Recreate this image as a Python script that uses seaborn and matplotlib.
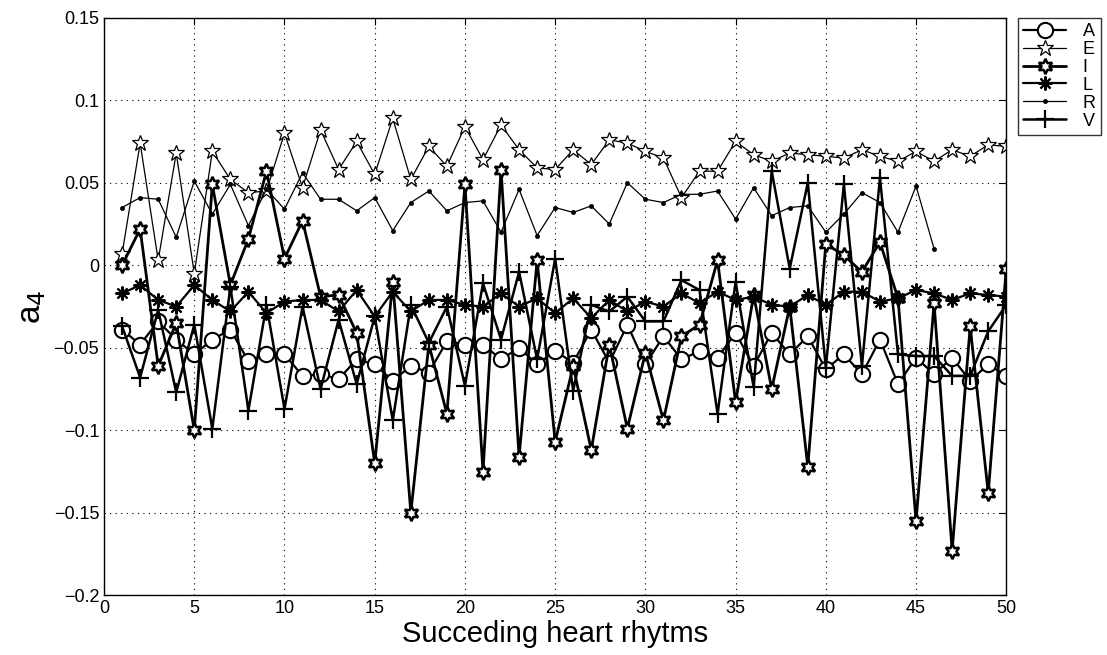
import numpy as np
import pandas as pd
import matplotlib
matplotlib.use("Agg")
import matplotlib.pyplot as plt
import seaborn as sns
from matplotlib.ticker import FixedLocator, FuncFormatter

x = list(range(1, 51))

A = [-0.039, -0.048, -0.034, -0.045, -0.054, -0.045, -0.039, -0.058, -0.054, -0.054,
     -0.067, -0.066, -0.069, -0.057, -0.060, -0.070, -0.061, -0.065, -0.046, -0.048,
     -0.048, -0.057, -0.050, -0.060, -0.052, -0.059, -0.039, -0.059, -0.036, -0.060,
     -0.043, -0.057, -0.052, -0.056, -0.041, -0.061, -0.041, -0.054, -0.043, -0.063,
     -0.054, -0.066, -0.045, -0.072, -0.056, -0.066, -0.056, -0.070, -0.060, -0.067]
E = [0.007, 0.074, 0.003, 0.068, -0.005, 0.069, 0.052, 0.044, 0.045, 0.080,
     0.047, 0.082, 0.058, 0.075, 0.055, 0.089, 0.052, 0.072, 0.060, 0.084,
     0.064, 0.085, 0.070, 0.059, 0.058, 0.070, 0.061, 0.076, 0.074, 0.069,
     0.065, 0.041, 0.057, 0.057, 0.075, 0.067, 0.063, 0.068, 0.067, 0.066,
     0.065, 0.070, 0.066, 0.063, 0.069, 0.063, 0.070, 0.066, 0.073, 0.072]
I = [0.000, 0.022, -0.061, -0.035, -0.100, 0.049, -0.012, 0.016, 0.057, 0.004,
     0.027, -0.019, -0.018, -0.041, -0.120, -0.010, -0.150, -0.048, -0.090, 0.049,
     -0.125, 0.058, -0.116, 0.003, -0.107, -0.061, -0.112, -0.048, -0.099, -0.053,
     -0.094, -0.043, -0.036, 0.003, -0.083, -0.018, -0.075, -0.025, -0.122, 0.013,
     0.006, -0.004, 0.014, -0.020, -0.155, -0.023, -0.173, -0.037, -0.138, -0.002]
L = [-0.017, -0.012, -0.021, -0.025, -0.012, -0.021, -0.028, -0.016, -0.029, -0.022,
     -0.021, -0.021, -0.028, -0.015, -0.031, -0.016, -0.028, -0.021, -0.021, -0.024,
     -0.025, -0.017, -0.025, -0.020, -0.029, -0.020, -0.032, -0.021, -0.028, -0.022,
     -0.025, -0.017, -0.023, -0.016, -0.021, -0.019, -0.024, -0.025, -0.018, -0.024,
     -0.016, -0.016, -0.022, -0.020, -0.015, -0.017, -0.021, -0.017, -0.018, -0.019]
R = [0.035, 0.041, 0.040, 0.017, 0.051, 0.031, 0.049, 0.024, 0.046, 0.034,
     0.056, 0.040, 0.040, 0.033, 0.041, 0.021, 0.038, 0.045, 0.033, 0.038,
     0.039, 0.020, 0.046, 0.018, 0.035, 0.032, 0.036, 0.025, 0.050, 0.040,
     0.038, 0.043, 0.043, 0.045, 0.028, 0.047, 0.030, 0.035, 0.036, 0.020,
     0.031, 0.044, 0.038, 0.020, 0.048, 0.010]
V = [-0.037, -0.068, -0.027, -0.077, -0.036, -0.099, -0.013, -0.088, -0.024, -0.087,
     -0.025, -0.075, -0.033, -0.072, -0.031, -0.094, -0.024, -0.047, -0.025, -0.073,
     -0.011, -0.045, -0.004, -0.057, 0.004, -0.076, -0.024, -0.028, -0.019, -0.034,
     -0.034, -0.009, -0.015, -0.090, -0.010, -0.074, 0.057, -0.002, 0.050, -0.062,
     0.049, -0.061, 0.053, -0.054, -0.055, -0.055, -0.067, -0.067, -0.040, -0.024]

series_names = ["A", "E", "I", "L", "R", "V"]
series_vals = [A, E, I, L, R, V]

sns.set_theme(style="white")
plt.rcParams['font.family'] = ['Liberation Sans', 'DejaVu Sans']
plt.rcParams['mathtext.fontset'] = 'custom'
plt.rcParams['mathtext.rm'] = 'Liberation Sans'
plt.rcParams['mathtext.it'] = 'Liberation Sans'
plt.rcParams['text.color'] = 'black'
plt.rcParams['axes.labelcolor'] = 'black'
plt.rcParams['xtick.color'] = 'black'
plt.rcParams['ytick.color'] = 'black'

fig = plt.figure(figsize=(11.07, 6.55), dpi=100)
ax = fig.add_axes([0.094, 0.091, 0.815, 0.882])

styles = {
    "A": dict(marker='o', markersize=11, markerfacecolor='white', markeredgecolor='black',
              markeredgewidth=1.5, linewidth=1.6),
    "E": dict(marker='*', markersize=12, markerfacecolor='white', markeredgecolor='black',
              markeredgewidth=0.9, linewidth=0.9),
    "I": dict(marker=(6, 1, 0), markersize=11, markerfacecolor='white', markeredgecolor='black',
              markeredgewidth=1.8, linewidth=2.0),
    "L": dict(marker=(8, 2, 0), markersize=10, markeredgecolor='black',
              markeredgewidth=1.5, linewidth=1.6),
    "R": dict(marker='o', markersize=3, markerfacecolor='black', markeredgecolor='black',
              markeredgewidth=0.5, linewidth=0.9),
    "V": dict(marker='+', markersize=13, markeredgecolor='black',
              markeredgewidth=1.6, linewidth=1.8),
}

for name, vals in zip(series_names, series_vals):
    df = pd.DataFrame({"x": x[:len(vals)], "y": vals})
    sns.lineplot(data=df, x="x", y="y", ax=ax, color='black', label=name,
                 **styles[name])

ax.set_xlim(0, 50)
ax.set_ylim(-0.2, 0.15)
ax.xaxis.set_major_locator(FixedLocator(list(range(0, 51, 5))))
yt = [-0.2, -0.15, -0.1, -0.05, 0, 0.05, 0.1, 0.15]
ax.yaxis.set_major_locator(FixedLocator(yt))
ax.yaxis.set_major_formatter(FuncFormatter(lambda v, p: ("%g" % round(v, 3)).replace('-', '\u2212')))
ax.tick_params(direction='in', length=5, width=0.8, labelsize=13, top=True, right=True,
               colors='black')
ax.grid(True, linestyle=(0, (1, 4)), color='black', linewidth=0.8)
for s in ax.spines.values():
    s.set_color('black')
    s.set_linewidth(1.0)

ax.set_xlabel("Succeding heart rhytms", fontsize=21, labelpad=2, color='black')
ax.set_ylabel(r"a$_{\mathsf{4}}$", fontsize=24, labelpad=4, color='black')

leg = ax.legend(loc='upper left', bbox_to_anchor=(1.0125, 1.0), frameon=True, fancybox=False,
                fontsize=13, handlelength=2.4, labelspacing=0.05, borderpad=0.3,
                handletextpad=0.9, borderaxespad=0)
leg.get_frame().set_edgecolor('black')
leg.get_frame().set_linewidth(1.0)
for t in leg.get_texts():
    t.set_color('black')

fig.savefig("out.png", dpi=100)
